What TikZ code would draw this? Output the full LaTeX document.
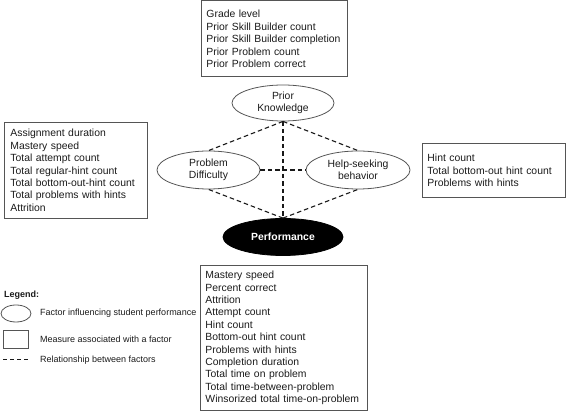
\documentclass[tikz,border=0pt]{standalone}
\usepackage{fontspec}
\setmainfont{Liberation Sans}
\usetikzlibrary{shapes.geometric}
\definecolor{edgegray}{HTML}{555555}
\definecolor{txt}{HTML}{1A1A1A}
\newcommand{\boxfont}{\fontsize{10.4}{12.4}\selectfont}
\newcommand{\legfont}{\fontsize{9}{11}\selectfont}
\tikzset{
  mbox/.style={draw=edgegray, line width=0.9pt, align=left, inner xsep=5pt, inner ysep=0pt,
    font=\boxfont, text=txt, anchor=north west},
  factor/.style={ellipse, draw=edgegray, line width=0.8pt, inner sep=0pt, align=center,
    font=\boxfont, text=txt},
  rel/.style={line width=1.1pt, dash pattern=on 4.5pt off 3pt, draw=black!90},
  legtext/.style={anchor=west, font=\legfont, text=txt, inner sep=0pt}
}
\begin{document}
\begin{tikzpicture}[x=1pt,y=-1pt]
\useasboundingbox (0,0) rectangle (566,411);
% measure boxes
\node[mbox, text width=136pt, minimum height=76pt] (topbox) at (201,0.5)
  {Grade level\\Prior Skill Builder count\\Prior Skill Builder completion\\Prior Problem count\\Prior Problem correct};
\node[mbox, inner xsep=6pt, text width=131pt, minimum height=96pt] (leftbox) at (4,122)
  {Assignment duration\\Mastery speed\\Total attempt count\\Total regular-hint count\\Total bottom-out-hint count\\Total problems with hints\\Attrition};
\node[mbox, text width=133pt, minimum height=54pt] (rightbox) at (422,143)
  {Hint count\\Total bottom-out hint count\\Problems with hints};
\node[mbox, text width=157pt, minimum height=145pt] (botbox) at (200,265)
  {Mastery speed\\Percent correct\\Attrition\\Attempt count\\Hint count\\Bottom-out hint count\\Problems with hints\\Completion duration\\Total time on problem\\Total time-between-problem\\Winsorized total time-on-problem};
% factors
\node[factor, minimum width=102pt, minimum height=36pt] (pk) at (283,103) {Prior\\Knowledge};
\node[factor, minimum width=103pt, minimum height=38pt] (pd) at (208.5,170) {Problem\\Difficulty};
\node[factor, minimum width=104pt, minimum height=38pt] (hs) at (358,170) {Help-seeking\\behavior};
\node[factor, fill=black, draw=black, text=white, font=\boxfont\bfseries, minimum width=120pt, minimum height=37pt] (perf) at (283,237) {Performance};
% relationships
\draw[rel] (pk.south) -- (perf.north);
\draw[rel] (pk.south) -- (pd.north);
\draw[rel] (pk.south) -- (hs.north);
\draw[rel] (perf.north) -- (pd.south);
\draw[rel] (perf.north) -- (hs.south);
\draw[rel] (pd.east) -- (hs.west);
% legend
\node[anchor=west, font=\legfont\bfseries, text=txt, inner sep=0pt] (legtitle) at (4,295) {Legend:};
\node[ellipse, draw=edgegray, line width=0.8pt, minimum width=30pt, minimum height=17pt, inner sep=0pt] (legell) at (16,313.5) {};
\node[legtext] (legelltxt) at (40,313.5) {Factor influencing student performance};
\node[draw=edgegray, line width=0.8pt, minimum width=25pt, minimum height=18pt, inner sep=0pt] (legrect) at (15.5,339) {};
\node[legtext] (legrecttxt) at (40,339) {Measure associated with a factor};
\coordinate (legdashA) at (3,360);
\coordinate (legdashB) at (30,360);
\draw[line width=1pt, dash pattern=on 4pt off 3pt, draw=black!90] (legdashA) -- (legdashB);
\node[legtext] (legdashtxt) at (40,360) {Relationship between factors};
\end{tikzpicture}
\end{document}
